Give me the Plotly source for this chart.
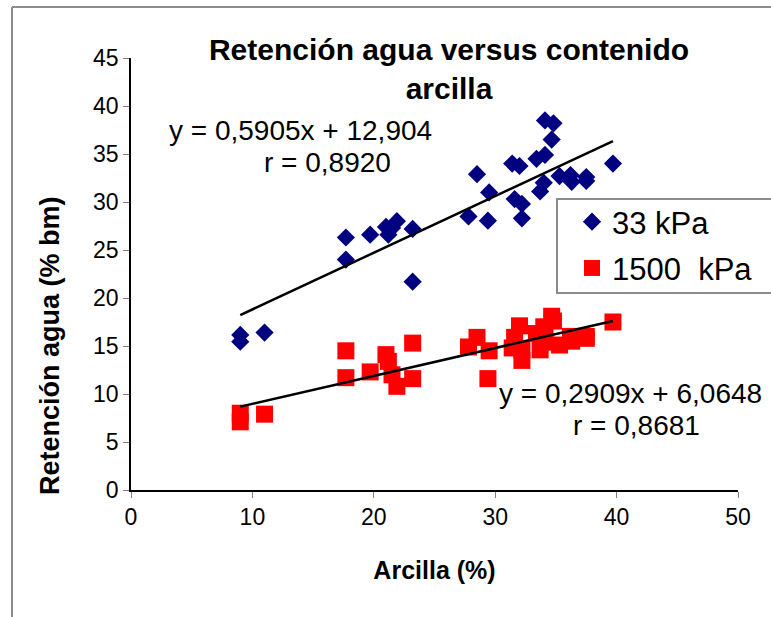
import plotly.graph_objects as go

# ---------------- data ----------------
arcilla_33 = [9.0, 9.0, 11.0, 17.7, 17.7, 19.7, 21.0, 21.2, 21.5, 21.9, 23.2, 23.2,
              27.8, 28.5, 29.4, 29.5, 31.4, 31.6, 32.0, 32.2, 32.2, 33.4, 33.7, 34.0,
              34.1, 34.1, 34.65, 34.8, 35.3, 36.2, 36.3, 37.5, 37.5, 39.7]
ret_33 = [16.15, 15.45, 16.4, 26.3, 24.0, 26.6, 27.4, 26.6, 27.3, 28.0, 27.2, 21.7,
          28.5, 32.9, 28.05, 31.0, 34.0, 30.3, 33.75, 29.8, 28.3, 34.5, 31.1, 32.0,
          34.9, 38.5, 36.5, 38.2, 32.7, 32.8, 32.1, 32.6, 32.2, 34.0]

arcilla_1500 = [9.0, 9.0, 11.0, 17.7, 17.7, 19.7, 21.0, 21.2, 21.5, 21.9, 23.2, 23.2,
                27.8, 28.5, 29.4, 29.5, 31.4, 31.6, 32.0, 32.2, 32.2, 33.4, 33.7, 34.0,
                34.1, 34.1, 34.65, 34.8, 35.3, 36.2, 36.3, 37.5, 37.5, 39.7]
ret_1500 = [8.0, 7.1, 7.9, 14.5, 11.7, 12.3, 14.1, 13.4, 12.0, 10.8, 15.3, 11.6,
            14.9, 15.9, 11.6, 14.5, 14.8, 15.9, 17.1, 13.5, 14.6, 16.3, 14.6, 17.0,
            15.4, 16.5, 18.1, 17.6, 15.1, 16.0, 15.5, 16.0, 15.8, 17.5]

series_names = ["33 kPa", "1500\u00a0 kPa"]
fit_33 = (0.5905, 12.904)
fit_1500 = (0.2909, 6.0648)
eq_labels = ["y = 0,5905x + 12,904", "r = 0,8920", "y = 0,2909x + 6,0648", "r = 0,8681"]

x_ticks = [0, 10, 20, 30, 40, 50]
y_ticks = [0, 5, 10, 15, 20, 25, 30, 35, 40, 45]

FONT = "Liberation Sans, Arial, sans-serif"

# plot-area geometry in pixels
W, H = 771, 617
L, R, T, B = 131, 738, 58, 490
def px2paper_x(px):
    return (px - L) / (R - L)
def px2paper_y(py):
    return (B - py) / (B - T)

fig = go.Figure()

fig.add_trace(go.Scatter(
    x=arcilla_33, y=ret_33, mode="markers", name=series_names[0],
    legendgroup="a",
    marker=dict(symbol="diamond", size=14, color="#000080", line=dict(width=0)),
))
fig.add_trace(go.Scatter(
    x=arcilla_1500, y=ret_1500, mode="markers", name=series_names[1],
    legendgroup="b",
    marker=dict(symbol="square", size=17, color="#FF0000", line=dict(width=0)),
))

for xs, (m, b) in [(arcilla_33, fit_33), (arcilla_1500, fit_1500)]:
    x0, x1 = min(xs), max(xs)
    fig.add_trace(go.Scatter(
        x=[x0, x1], y=[m * x0 + b, m * x1 + b], mode="lines",
        line=dict(color="black", width=2.5), showlegend=False, hoverinfo="skip",
    ))

ann_font = dict(size=28, color="black", family=FONT)
fig.add_annotation(x=px2paper_x(300), y=px2paper_y(130), xref="paper", yref="paper",
                   xanchor="center", yanchor="middle",
                   text=eq_labels[0], showarrow=False, font=ann_font)
fig.add_annotation(x=px2paper_x(327), y=px2paper_y(162), xref="paper", yref="paper",
                   xanchor="center", yanchor="middle",
                   text=eq_labels[1], showarrow=False, font=ann_font)
fig.add_annotation(x=px2paper_x(497), y=px2paper_y(393), xref="paper", yref="paper",
                   xanchor="left", yanchor="middle",
                   text=eq_labels[2], showarrow=False, font=ann_font)
fig.add_annotation(x=px2paper_x(636), y=px2paper_y(425), xref="paper", yref="paper",
                   xanchor="center", yanchor="middle",
                   text=eq_labels[3], showarrow=False, font=ann_font)

# y-axis title (placed like the original, lower than the axis centre)
fig.add_annotation(x=px2paper_x(50), y=px2paper_y(346), xref="paper", yref="paper",
                   xanchor="center", yanchor="middle",
                   text="<b>Retención agua (% bm)</b>", showarrow=False, textangle=-90,
                   font=dict(size=27, color="black", family=FONT))

# outer frame (gray)
fig.add_shape(type="line", xref="paper", yref="paper",
              x0=px2paper_x(12), x1=px2paper_x(780), y0=px2paper_y(7), y1=px2paper_y(7),
              line=dict(color="#8c8c8c", width=2))
fig.add_shape(type="line", xref="paper", yref="paper",
              x0=px2paper_x(12), x1=px2paper_x(12), y0=px2paper_y(7), y1=px2paper_y(630),
              line=dict(color="#8c8c8c", width=2))

# legend frame
fig.add_shape(type="rect", xref="paper", yref="paper",
              x0=px2paper_x(557), x1=px2paper_x(790), y0=px2paper_y(199), y1=px2paper_y(293),
              line=dict(color="#8c8c8c", width=2), fillcolor="white", layer="above")

fig.update_layout(
    width=W, height=H,
    margin=dict(l=L, r=W - R, t=T, b=H - B, autoexpand=False),
    paper_bgcolor="white", plot_bgcolor="white",
    font=dict(family=FONT, color="black"),
    title=dict(text="<b>Retención agua versus contenido<br>arcilla</b>",
               x=px2paper_x(449), xref="paper", xanchor="center",
               y=1 - 60 / H, yref="container", yanchor="middle",
               font=dict(size=30, family=FONT, color="black")),
    showlegend=True,
    legend=dict(x=px2paper_x(572), y=px2paper_y(195), xanchor="left", yanchor="top",
                bgcolor="rgba(0,0,0,0)", borderwidth=0,
                font=dict(size=31, family=FONT, color="black"),
                traceorder="grouped", tracegroupgap=3, itemwidth=30),
    xaxis=dict(range=[0, 50], tickvals=x_ticks, ticktext=[str(v) for v in x_ticks],
               showgrid=False, zeroline=False, showline=True, linecolor="black",
               linewidth=1.5, ticks="outside", ticklen=6, tickcolor="#808080",
               tickfont=dict(size=23, family=FONT, color="black"),
               title=dict(text="<b>Arcilla (%)</b>", font=dict(size=25, family=FONT, color="black"),
                          standoff=32)),
    yaxis=dict(range=[0, 45], tickvals=y_ticks, ticktext=[str(v) for v in y_ticks],
               showgrid=False, zeroline=False, showline=True, linecolor="black",
               linewidth=1.5, ticks="outside", ticklen=6, tickcolor="#808080",
               tickfont=dict(size=23, family=FONT, color="black")),
)

fig.write_html("out.html")
